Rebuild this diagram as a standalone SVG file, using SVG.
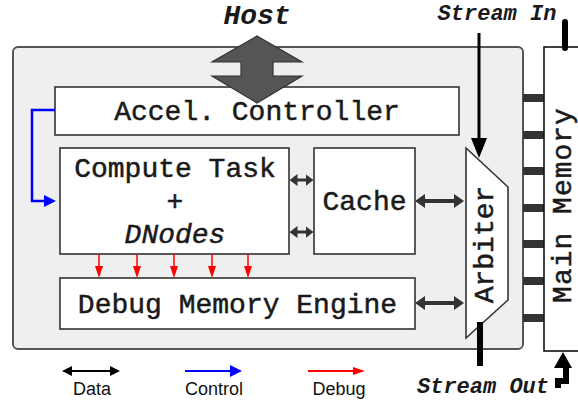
<svg xmlns="http://www.w3.org/2000/svg" width="578" height="400" viewBox="0 0 578 400">
  <defs>
    <style>
      .box { fill: #ffffff; stroke: #333333; stroke-width: 1.6; }
      .mono { font-family: "Liberation Mono", "DejaVu Sans Mono", monospace; font-size: 28px; fill: #1a1a1a; stroke: #1a1a1a; stroke-width: 0.5; }
      .ital { font-style: italic; font-weight: bold; stroke-width: 0; }
      .small { font-size: 22px; }
      .legend { font-family: "Liberation Sans", Arial, sans-serif; font-size: 18px; fill: #111111; text-anchor: middle; }
      .port { fill: #333333; }
      .data { stroke: #333333; stroke-width: 4; fill: none; }
      .dsmall { stroke: #333333; stroke-width: 3; fill: none; }
      .ctrl { stroke: #0000ff; stroke-width: 2.5; fill: none; }
      .dbg { stroke: #ff0000; stroke-width: 1.5; fill: none; }
    </style>
    <marker id="headBig" viewBox="0 0 10 14" refX="3" refY="7" markerWidth="10" markerHeight="14" markerUnits="userSpaceOnUse" orient="auto-start-reverse">
      <path d="M0,0 L10,7 L0,14 z" fill="#333333"/>
    </marker>
    <marker id="headSmall" viewBox="0 0 8 12" refX="2.5" refY="6" markerWidth="8" markerHeight="12" markerUnits="userSpaceOnUse" orient="auto-start-reverse">
      <path d="M0,0 L8,6 L0,12 z" fill="#333333"/>
    </marker>
    <marker id="headThin" viewBox="0 0 10 10" refX="2" refY="5" markerWidth="10" markerHeight="10" markerUnits="userSpaceOnUse" orient="auto-start-reverse">
      <path d="M0,0 L10,5 L0,10 z" fill="#000000"/>
    </marker>
    <marker id="headBlue" viewBox="0 0 12 12" refX="2" refY="6" markerWidth="12" markerHeight="12" markerUnits="userSpaceOnUse" orient="auto">
      <path d="M0,0 L12,6 L0,12 z" fill="#0000ff"/>
    </marker>
    <marker id="headRed" viewBox="0 0 12 8" refX="1" refY="4" markerWidth="12" markerHeight="8" markerUnits="userSpaceOnUse" orient="auto">
      <path d="M0,0 L12,4 L0,8 z" fill="#ff0000"/>
    </marker>
  </defs>

  <rect width="578" height="400" fill="#ffffff"/>

  <!-- accelerator enclosure -->
  <g id="accelerator">
    <rect x="13" y="47" width="510" height="302" rx="5" fill="#efefef" stroke="#555555" stroke-width="2"/>
  </g>

  <!-- memory ports between accelerator and main memory -->
  <g id="ports">
    <rect class="port" x="523" y="94" width="21" height="8"/>
    <rect class="port" x="523" y="131" width="21" height="8"/>
    <rect class="port" x="523" y="167" width="21" height="8"/>
    <rect class="port" x="523" y="204" width="21" height="8"/>
    <rect class="port" x="523" y="240" width="21" height="8"/>
    <rect class="port" x="523" y="277" width="21" height="8"/>
    <rect class="port" x="523" y="314" width="21" height="8"/>
  </g>

  <g id="main-memory">
    <rect x="544" y="47" width="50" height="304" fill="#ffffff" stroke="#111111" stroke-width="1.6"/>
    <text class="mono" transform="translate(571,205) rotate(-90)" text-anchor="middle" letter-spacing="1">Main Memory</text>
  </g>

  <g id="accel-controller">
    <rect class="box" x="55" y="87" width="404" height="48"/>
    <text class="mono" x="257" y="120" text-anchor="middle">Accel. Controller</text>
  </g>

  <g id="compute-task">
    <rect class="box" x="60" y="148" width="229" height="106"/>
    <text class="mono" x="175" y="177" text-anchor="middle">Compute Task</text>
    <text class="mono" x="175" y="210" text-anchor="middle">+</text>
    <text class="mono" x="175" y="243" text-anchor="middle" font-style="italic">DNodes</text>
  </g>

  <g id="cache">
    <rect class="box" x="314" y="148" width="101" height="106"/>
    <text class="mono" x="364.5" y="210" text-anchor="middle">Cache</text>
  </g>

  <g id="debug-engine">
    <rect class="box" x="60" y="278" width="355" height="51"/>
    <text class="mono" x="237.5" y="313" text-anchor="middle">Debug Memory Engine</text>
  </g>

  <g id="arbiter">
    <polygon class="box" points="466,148 508,187 508,300 466,338"/>
    <text class="mono" transform="translate(493,244.5) rotate(-90)" text-anchor="middle">Arbiter</text>
  </g>

  <g id="host">
    <polygon points="257,36 302,62 273,62 273,76 302,76 257,103 212,76 241,76 241,62 212,62" fill="#555555" stroke="#333333" stroke-width="1.2"/>
    <text class="mono ital" x="257" y="24" text-anchor="middle">Host</text>
  </g>

  <g id="labels">
    <text class="mono ital small" x="497" y="20" text-anchor="middle">Stream In</text>
    <text class="mono ital small" x="483" y="393" text-anchor="middle">Stream Out</text>
  </g>

  <!-- connectors -->
  <g id="connectors">
    <!-- data paths -->
    <path class="dsmall" d="M295,180 H308" marker-start="url(#headSmall)" marker-end="url(#headSmall)"/>
    <path class="dsmall" d="M295,232 H308" marker-start="url(#headSmall)" marker-end="url(#headSmall)"/>
    <path class="data" d="M422,201 H457" marker-start="url(#headBig)" marker-end="url(#headBig)"/>
    <path class="data" d="M422,303 H457" marker-start="url(#headBig)" marker-end="url(#headBig)"/>

    <!-- control path -->
    <path class="ctrl" d="M55,110 H32 V201 H46" marker-end="url(#headBlue)"/>

    <!-- debug taps -->
    <path class="dbg" d="M99,254 V267" marker-end="url(#headRed)"/>
    <path class="dbg" d="M137,254 V267" marker-end="url(#headRed)"/>
    <path class="dbg" d="M174,254 V267" marker-end="url(#headRed)"/>
    <path class="dbg" d="M212,254 V267" marker-end="url(#headRed)"/>
    <path class="dbg" d="M248,254 V267" marker-end="url(#headRed)"/>

    <!-- streams -->
    <path d="M479,33 V140" stroke="#000000" stroke-width="3" fill="none"/>
    <polygon points="471,138 487,138 479,158" fill="#000000"/>
    <path d="M480,322 V366" stroke="#000000" stroke-width="6" fill="none"/>
    <path d="M565,22 V48" stroke="#000000" stroke-width="6" stroke-linecap="round" fill="none"/>
    <polygon points="563,352 572,368 554,368" fill="#000000"/>
    <path d="M566,366 V381 H558 V388" stroke="#000000" stroke-width="6" fill="none"/>
  </g>

  <!-- legend -->
  <g id="legend">
    <path d="M70,371 H112" stroke="#000000" stroke-width="2" marker-start="url(#headThin)" marker-end="url(#headThin)"/>
    <text class="legend" x="92" y="395">Data</text>
    <path d="M185,371 H232" stroke="#0000ff" stroke-width="2" marker-end="url(#headBlue)"/>
    <text class="legend" x="214" y="395">Control</text>
    <path d="M308,371 H354" stroke="#ff0000" stroke-width="2" marker-end="url(#headRed)"/>
    <text class="legend" x="339" y="395">Debug</text>
  </g>
</svg>
